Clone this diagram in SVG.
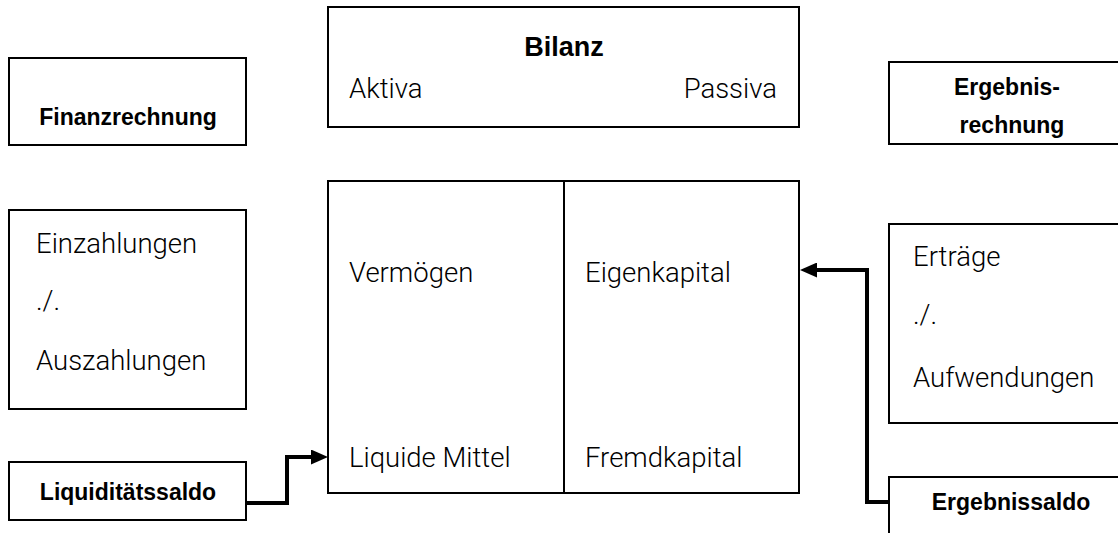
<svg xmlns="http://www.w3.org/2000/svg" width="1118" height="533" viewBox="0 0 1118 533">
<style>
.box{fill:#fff;stroke:#000;stroke-width:2}
.b{font-family:"Liberation Sans",Arial,sans-serif;font-weight:bold;font-size:23px;fill:#000;text-anchor:middle}
.t{font-family:Roboto,"Liberation Sans",sans-serif;font-weight:300;font-size:27.5px;fill:#000}
.conn{fill:none;stroke:#000;stroke-width:4}
</style>
<defs>
<marker id="ah" markerUnits="userSpaceOnUse" markerWidth="17" markerHeight="15" refX="7" refY="7.5" orient="auto">
<path d="M0,0 L17,7.5 L0,15 z" fill="#000"/>
</marker>
</defs>
<g id="finanzrechnung">
<rect class="box" x="9" y="58" width="237" height="87"/>
<text class="b" x="128" y="125">Finanzrechnung</text>
</g>
<g id="bilanz-kopf">
<rect class="box" x="328" y="7" width="471" height="120"/>
<text class="b" x="564" y="56" style="font-size:27px">Bilanz</text>
<text class="t" x="349" y="98">Aktiva</text>
<text class="t" x="777" y="98" text-anchor="end">Passiva</text>
</g>
<g id="ergebnisrechnung">
<rect class="box" x="889" y="62" width="250" height="82"/>
<text class="b" x="1007" y="95">Ergebnis-</text>
<text class="b" x="1012" y="133">rechnung</text>
</g>
<g id="zahlungen">
<rect class="box" x="9" y="210" width="237" height="199"/>
<text class="t" x="36" y="253">Einzahlungen</text>
<text class="t" x="36" y="310">./.</text>
<text class="t" x="36" y="370">Auszahlungen</text>
</g>
<g id="bilanz">
<rect class="box" x="328" y="181" width="471" height="312"/>
<line x1="564" y1="181" x2="564" y2="493" stroke="#000" stroke-width="2"/>
<text class="t" x="349" y="282">Vermögen</text>
<text class="t" x="585" y="282">Eigenkapital</text>
<text class="t" x="349" y="467">Liquide Mittel</text>
<text class="t" x="585" y="467">Fremdkapital</text>
</g>
<g id="ertraege">
<rect class="box" x="889" y="224" width="250" height="199"/>
<text class="t" x="913" y="266">Erträge</text>
<text class="t" x="913" y="324">./.</text>
<text class="t" x="913" y="387">Aufwendungen</text>
</g>
<g id="liquiditaetssaldo">
<rect class="box" x="9" y="462" width="237" height="58"/>
<text class="b" x="128" y="500">Liquiditätssaldo</text>
</g>
<g id="ergebnissaldo">
<rect class="box" x="889" y="477" width="250" height="70"/>
<text class="b" x="1011" y="510">Ergebnissaldo</text>
</g>
<g id="connectors">
<path class="conn" d="M246,503 H287 V457 H318" marker-end="url(#ah)"/>
<path class="conn" d="M889,502 H867 V270 H810" marker-end="url(#ah)"/>
</g>
</svg>
